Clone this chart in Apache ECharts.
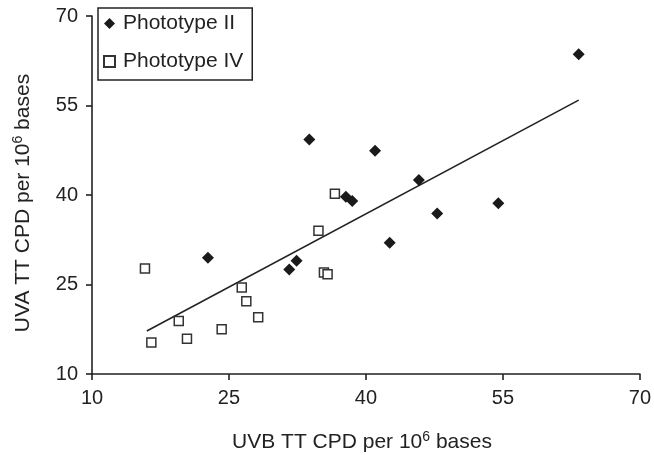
<!DOCTYPE html>
<html>
<head>
<meta charset="utf-8">
<script src="https://cdn.jsdelivr.net/npm/echarts@6/dist/echarts.min.js"></script>
<style>html,body{margin:0;padding:0;background:#fff}#c{width:654px;height:455px}</style>
</head>
<body>
<div id="c"></div>
<script>
// Data
const seriesNames = ['Phototype II', 'Phototype IV'];
const typeII_uvb = [22.7, 31.6, 32.4, 33.8, 37.8, 38.5, 41.0, 42.6, 45.8, 47.8, 54.5, 63.3];
const typeII_uva = [29.5, 27.5, 29.0, 49.3, 39.7, 39.0, 47.4, 32.0, 42.5, 36.9, 38.6, 63.6];
const typeIV_uvb = [15.8, 16.5, 19.5, 20.4, 24.2, 26.4, 26.9, 28.2, 34.8, 35.4, 35.8, 36.6];
const typeIV_uva = [27.7, 15.3, 18.9, 15.9, 17.5, 24.5, 22.2, 19.5, 34.0, 27.0, 26.7, 40.2];
const trendX = [16.0, 63.3];
const trendY = [17.2, 55.9];
const tickValues = [10, 25, 40, 55, 70];

const zip = (a, b) => a.map((v, i) => [v, b[i]]);
const FONT = '"Liberation Sans", Arial, sans-serif';
const dark = '#222';

const chart = echarts.init(document.getElementById('c'));
const axisCommon = {
  type: 'value',
  min: tickValues[0],
  max: tickValues[tickValues.length - 1],
  interval: tickValues[1] - tickValues[0],
  splitLine: { show: false },
  axisLine: { show: true, onZero: false, lineStyle: { color: dark, width: 1.6 } },
  axisTick: { show: true, length: 6, lineStyle: { color: dark, width: 1.6 } },
  axisLabel: { color: dark, fontSize: 20, fontFamily: FONT }
};
const titleRich = {
  a: { fontSize: 21, fontFamily: FONT, fill: dark },
  s: { fontSize: 14, fontFamily: FONT, fill: dark, verticalAlign: 'top', padding: [0, 0, 9, 0] }
};
chart.setOption({
  animation: false,
  grid: { left: 92, right: 13, top: 16, bottom: 81 },
  xAxis: Object.assign({}, axisCommon, { axisLabel: Object.assign({}, axisCommon.axisLabel, { margin: 14 }) }),
  yAxis: Object.assign({}, axisCommon, { axisLabel: Object.assign({}, axisCommon.axisLabel, { margin: 14 }) }),
  legend: {
    orient: 'vertical',
    left: 98, top: 8,
    padding: [5, 9, 8, 5],
    itemGap: 17,
    itemWidth: 11, itemHeight: 11,
    borderColor: dark, borderWidth: 1.5,
    backgroundColor: '#fff',
    textStyle: { color: dark, fontSize: 21, fontFamily: FONT, lineHeight: 21, padding: [0, 0, 0, 3] },
    data: seriesNames
  },
  graphic: [
    {
      type: 'text',
      x: 362, y: 442,
      style: { text: '{a|UVB TT CPD per 10}{s|6}{a| bases}', fill: dark, align: 'center', verticalAlign: 'middle', rich: titleRich }
    },
    {
      type: 'text',
      x: 23, y: 203, rotation: Math.PI / 2,
      style: { text: '{a|UVA TT CPD per 10}{s|6}{a| bases}', fill: dark, align: 'center', verticalAlign: 'middle', rich: titleRich }
    }
  ],
  series: [
    {
      name: seriesNames[0], type: 'scatter',
      symbol: 'diamond', symbolSize: 12,
      itemStyle: { color: '#1a1a1a', opacity: 1 },
      data: zip(typeII_uvb, typeII_uva), z: 3
    },
    {
      name: seriesNames[1], type: 'scatter',
      symbol: 'rect', symbolSize: 9,
      itemStyle: { color: '#fff', borderColor: '#333', borderWidth: 1.5, opacity: 1 },
      data: zip(typeIV_uvb, typeIV_uva), z: 3
    },
    {
      name: 'trend', type: 'line',
      showSymbol: false, symbol: 'none',
      lineStyle: { color: dark, width: 1.6 },
      data: zip(trendX, trendY), z: 2, silent: true
    }
  ]
});
</script>
</body>
</html>
